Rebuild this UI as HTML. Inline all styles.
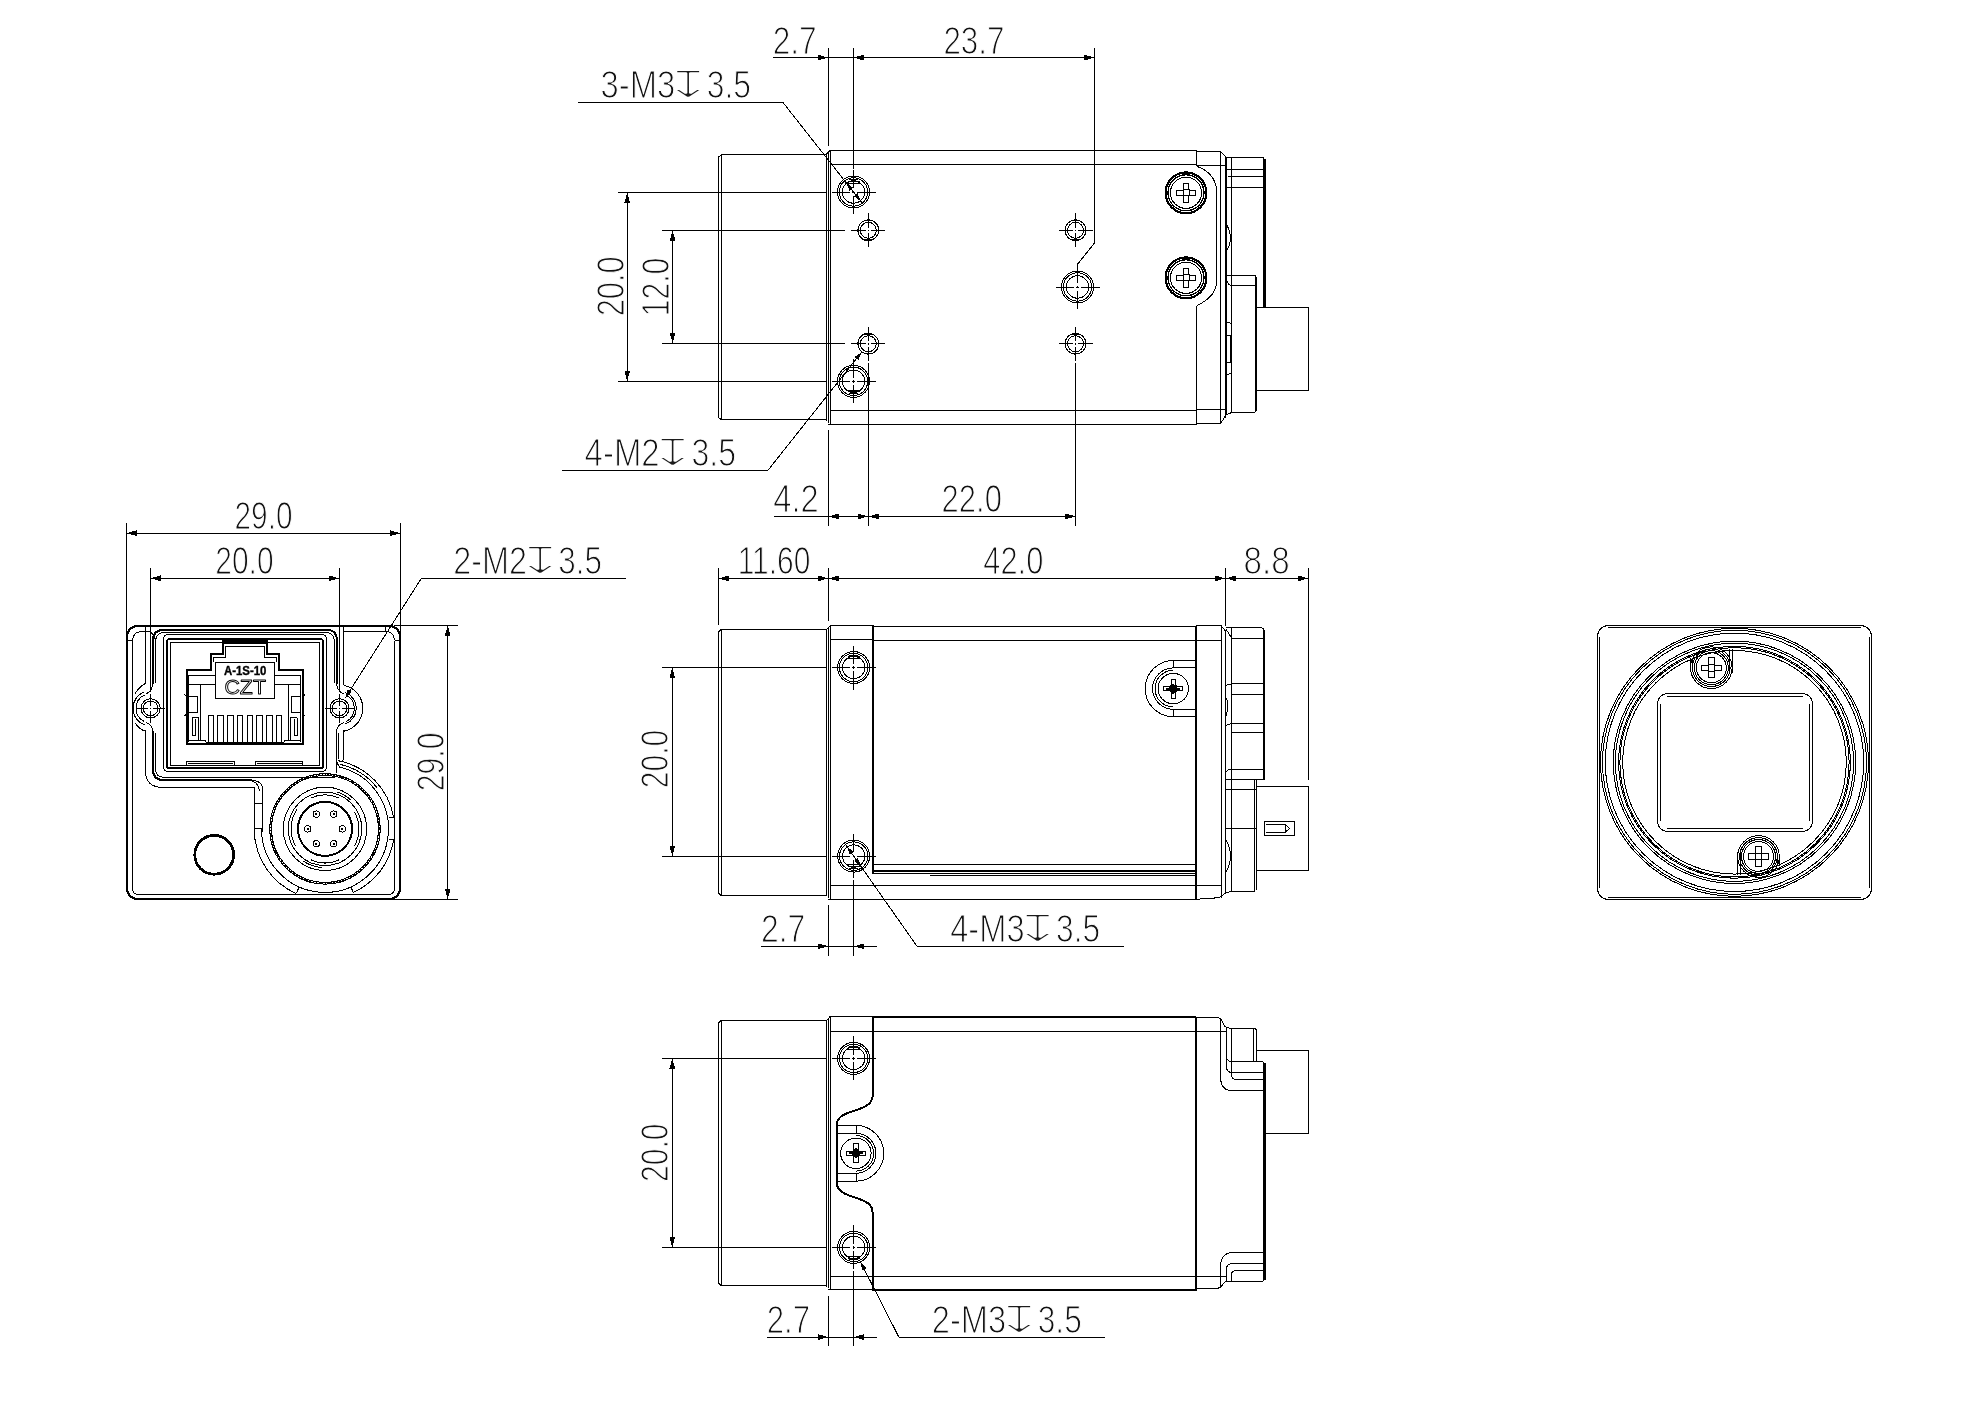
<!DOCTYPE html>
<html lang="en"><head><meta charset="utf-8"><title>Camera outline drawing</title>
<style>
html,body{margin:0;padding:0;background:#fff}
svg{display:block;will-change:transform;filter:grayscale(1)}
svg *{vector-effect:none}
.g{fill:none;stroke:#000;stroke-width:1;shape-rendering:crispEdges;stroke-linecap:butt;stroke-linejoin:miter}
.g .a{fill:#000;stroke:none}
.g text{stroke-linejoin:round}
.t{font-family:"Liberation Sans",Arial,sans-serif;font-size:38px;fill:#111;stroke:#fff;stroke-width:1.15px}
.lb{font-family:"Liberation Sans",Arial,sans-serif;font-size:12px;font-weight:bold;fill:#000;stroke:#000;stroke-width:.35px}
.lo{font-family:"Liberation Sans",Arial,sans-serif;font-size:20px;fill:#fff;stroke:#000;stroke-width:.9px}
.d{font-family:"DejaVu Sans","Liberation Sans",sans-serif;font-size:33.4px;fill:#1c1c1c;stroke:#fff;stroke-width:1.85px}
</style></head>
<body>
<svg width="1984" height="1403" viewBox="0 0 1984 1403">
<rect width="1984" height="1403" fill="#fff"/>
<g class="g">
<g id="top-view">
<polyline points="718.5,417.5 718.5,157 721.5,154.5 826.3,154.5"/>
<line x1="721.5" y1="154.3" x2="721.5" y2="419.5"/>
<polyline points="718,417.5 721.5,419.5 826.3,419.5"/>
<line x1="826.5" y1="154" x2="826.5" y2="421"/>
<line x1="828.5" y1="152.5" x2="828.5" y2="422.5"/>
<polyline points="826.3,154.3 830,150.5 1196.6,150.5"/>
<line x1="830.5" y1="150.5" x2="830.5" y2="424.5"/>
<line x1="830" y1="164.5" x2="1196.6" y2="164.5"/>
<line x1="830" y1="410.5" x2="1196.6" y2="410.5"/>
<line x1="828" y1="424.5" x2="1196.6" y2="424.5"/>
<line x1="1196.5" y1="150.5" x2="1196.5" y2="166.3"/>
<path d="M1196.6,166.3 C1207,169.5 1216.6,178 1216.6,192 L1216.6,281 C1216.6,293 1208,300.5 1196.6,305.6"/>
<line x1="1196.5" y1="305.6" x2="1196.5" y2="424.5"/>
<polyline points="1196.6,151.5 1220.6,151.5 1226,157"/>
<line x1="1196.6" y1="165.5" x2="1225" y2="165.5"/>
<line x1="1220.5" y1="151.5" x2="1220.5" y2="423.1"/>
<line x1="1225.5" y1="156" x2="1225.5" y2="418"/>
<line x1="1226.5" y1="157" x2="1226.5" y2="415"/>
<line x1="1231.5" y1="157.8" x2="1231.5" y2="412"/>
<line x1="1196.6" y1="409.5" x2="1225" y2="409.5"/>
<polyline points="1196.6,423.5 1220.6,423.5 1226,415 1231.5,412.5 1255,412.5"/>
<polyline points="1226,157.5 1263.5,157.5 1263.5,307"/>
<line x1="1265" y1="159" x2="1265" y2="307" stroke-width="1.6"/>
<line x1="1226" y1="169.5" x2="1263.4" y2="169.5"/>
<line x1="1228" y1="176.5" x2="1263.4" y2="176.5"/>
<line x1="1226" y1="187.5" x2="1263.4" y2="187.5"/>
<path d="M1226,223.8 Q1235,238 1226,252"/>
<polyline points="1226,275.5 1255,275.5 1256.5,277.5 1256.5,411"/>
<line x1="1255.5" y1="275.4" x2="1255.5" y2="412"/>
<path d="M1227,281 Q1228,285.6 1233,285.6 L1255,285.6"/>
<polyline points="1226,322 1231.5,323.5"/>
<polyline points="1226,375 1231.5,373"/>
<polyline points="1225,335.5 1230.5,335.5 1230.5,362.5 1225,362.5"/>
<rect x="1256.5" y="307.5" width="52" height="83"/>
<circle cx="853.5" cy="192" r="16"/>
<circle cx="853.5" cy="192" r="14.2"/>
<circle cx="853.5" cy="192" r="11.2"/>
<line x1="846.5" y1="183.5" x2="860.5" y2="183.5"/>
<line x1="847.5" y1="181.5" x2="859.5" y2="181.5"/>
<line x1="848.9" y1="179.5" x2="858.1" y2="179.5"/>
<line x1="831.5" y1="192.5" x2="849.8" y2="192.5"/>
<line x1="857.2" y1="192.5" x2="875.5" y2="192.5"/>
<line x1="852.3" y1="192.5" x2="854.7" y2="192.5"/>
<line x1="853.5" y1="170" x2="853.5" y2="188.3"/>
<line x1="853.5" y1="195.7" x2="853.5" y2="214"/>
<line x1="853.5" y1="190.8" x2="853.5" y2="193.2"/>
<circle cx="853.5" cy="381.3" r="16"/>
<circle cx="853.5" cy="381.3" r="14.2"/>
<circle cx="853.5" cy="381.3" r="11.2"/>
<line x1="846.5" y1="390.5" x2="860.5" y2="390.5"/>
<line x1="847.5" y1="391.5" x2="859.5" y2="391.5"/>
<line x1="848.9" y1="393.5" x2="858.1" y2="393.5"/>
<line x1="831.5" y1="381.5" x2="849.8" y2="381.5"/>
<line x1="857.2" y1="381.5" x2="875.5" y2="381.5"/>
<line x1="852.3" y1="381.5" x2="854.7" y2="381.5"/>
<line x1="853.5" y1="359.3" x2="853.5" y2="377.6"/>
<line x1="853.5" y1="385" x2="853.5" y2="403.3"/>
<line x1="853.5" y1="380.1" x2="853.5" y2="382.5"/>
<circle cx="1077.5" cy="287" r="16"/>
<circle cx="1077.5" cy="287" r="14.2"/>
<circle cx="1077.5" cy="287" r="11.2"/>
<line x1="1055.5" y1="287.5" x2="1073.8" y2="287.5"/>
<line x1="1081.2" y1="287.5" x2="1099.5" y2="287.5"/>
<line x1="1076.3" y1="287.5" x2="1078.7" y2="287.5"/>
<line x1="1077.5" y1="265" x2="1077.5" y2="283.3"/>
<line x1="1077.5" y1="290.7" x2="1077.5" y2="309"/>
<line x1="1077.5" y1="285.8" x2="1077.5" y2="288.2"/>
<circle cx="868.3" cy="230.3" r="10.4"/>
<circle cx="868.3" cy="230.3" r="8"/>
<line x1="864.8" y1="220.5" x2="871.8" y2="220.5" stroke-width="1.4"/>
<line x1="864.8" y1="239.5" x2="871.8" y2="239.5" stroke-width="1.4"/>
<line x1="851.3" y1="230.5" x2="865.5" y2="230.5"/>
<line x1="871.1" y1="230.5" x2="885.3" y2="230.5"/>
<line x1="867.5" y1="230.5" x2="869.1" y2="230.5"/>
<line x1="868.5" y1="213.3" x2="868.5" y2="227.5"/>
<line x1="868.5" y1="233.1" x2="868.5" y2="247.3"/>
<line x1="868.5" y1="229.5" x2="868.5" y2="231.1"/>
<circle cx="868.3" cy="343.7" r="10.4"/>
<circle cx="868.3" cy="343.7" r="8"/>
<line x1="864.8" y1="334.5" x2="871.8" y2="334.5" stroke-width="1.4"/>
<line x1="864.8" y1="353.5" x2="871.8" y2="353.5" stroke-width="1.4"/>
<line x1="851.3" y1="343.5" x2="865.5" y2="343.5"/>
<line x1="871.1" y1="343.5" x2="885.3" y2="343.5"/>
<line x1="867.5" y1="343.5" x2="869.1" y2="343.5"/>
<line x1="868.5" y1="326.7" x2="868.5" y2="340.9"/>
<line x1="868.5" y1="346.5" x2="868.5" y2="360.7"/>
<line x1="868.5" y1="342.9" x2="868.5" y2="344.5"/>
<circle cx="1075.5" cy="230.3" r="10.4"/>
<circle cx="1075.5" cy="230.3" r="8"/>
<line x1="1072" y1="220.5" x2="1079" y2="220.5" stroke-width="1.4"/>
<line x1="1072" y1="239.5" x2="1079" y2="239.5" stroke-width="1.4"/>
<line x1="1058.5" y1="230.5" x2="1072.7" y2="230.5"/>
<line x1="1078.3" y1="230.5" x2="1092.5" y2="230.5"/>
<line x1="1074.7" y1="230.5" x2="1076.3" y2="230.5"/>
<line x1="1075.5" y1="213.3" x2="1075.5" y2="227.5"/>
<line x1="1075.5" y1="233.1" x2="1075.5" y2="247.3"/>
<line x1="1075.5" y1="229.5" x2="1075.5" y2="231.1"/>
<circle cx="1075.5" cy="343.7" r="10.4"/>
<circle cx="1075.5" cy="343.7" r="8"/>
<line x1="1072" y1="334.5" x2="1079" y2="334.5" stroke-width="1.4"/>
<line x1="1072" y1="353.5" x2="1079" y2="353.5" stroke-width="1.4"/>
<line x1="1058.5" y1="343.5" x2="1072.7" y2="343.5"/>
<line x1="1078.3" y1="343.5" x2="1092.5" y2="343.5"/>
<line x1="1074.7" y1="343.5" x2="1076.3" y2="343.5"/>
<line x1="1075.5" y1="326.7" x2="1075.5" y2="340.9"/>
<line x1="1075.5" y1="346.5" x2="1075.5" y2="360.7"/>
<line x1="1075.5" y1="342.9" x2="1075.5" y2="344.5"/>
<circle cx="1186" cy="192.8" r="20.4" stroke-width="2.2"/>
<circle cx="1186" cy="192.8" r="18" stroke-width="1.3"/>
<circle cx="1186" cy="192.8" r="15.6"/>
<rect x="1183.5" y="189.5" width="6" height="6"/>
<rect x="1183.5" y="183.5" width="5" height="6"/>
<rect x="1183.5" y="195.5" width="5" height="7"/>
<rect x="1176.5" y="190.5" width="7" height="5"/>
<rect x="1189.5" y="190.5" width="6" height="5"/>
<circle cx="1186" cy="277.8" r="20.4" stroke-width="2.2"/>
<circle cx="1186" cy="277.8" r="18" stroke-width="1.3"/>
<circle cx="1186" cy="277.8" r="15.6"/>
<rect x="1183.5" y="274.5" width="6" height="6"/>
<rect x="1183.5" y="268.5" width="5" height="6"/>
<rect x="1183.5" y="280.5" width="5" height="7"/>
<rect x="1176.5" y="275.5" width="7" height="5"/>
<rect x="1189.5" y="275.5" width="6" height="5"/>
<line x1="772.9" y1="57.5" x2="1094.6" y2="57.5"/>
<line x1="828.5" y1="48" x2="828.5" y2="146"/>
<line x1="853.5" y1="48" x2="853.5" y2="169"/>
<polyline points="1094.5,48 1094.5,243 1077.5,264.3 1077.5,268"/>
<polygon class="a" points="828.4,57.6 817.9,60.5 817.9,54.7"/>
<polygon class="a" points="853.3,57.6 863.8,54.7 863.8,60.5"/>
<polygon class="a" points="1094.6,57.6 1084.1,60.5 1084.1,54.7"/>
<text class="t" x="772.7" y="54.2" textLength="44" lengthAdjust="spacingAndGlyphs">2.7</text>
<text class="t" x="943.4" y="54.2" textLength="61.1" lengthAdjust="spacingAndGlyphs">23.7</text>
<polyline points="578,102.5 783,102.5 862.6,203.6"/>
<polygon class="a" points="846.2,182.7 853.22,187.87 849.57,190.74"/>
<polygon class="a" points="860.8,201.3 853.78,196.13 857.43,193.26"/>
<g class="callout">
<text class="t" x="600.5" y="98.3" textLength="74.66" lengthAdjust="spacingAndGlyphs">3-M3</text>
<text class="d" transform="translate(663.05,98.3) scale(1.8,1.14)">&#x21A7;</text>
<text class="t" x="706.78" y="98.3" textLength="44.22" lengthAdjust="spacingAndGlyphs">3.5</text>
</g>
<line x1="617.5" y1="192.5" x2="826" y2="192.5"/>
<line x1="617.5" y1="381.5" x2="826" y2="381.5"/>
<line x1="627.5" y1="192.4" x2="627.5" y2="381.2"/>
<polygon class="a" points="627.2,192.4 630.1,202.9 624.3,202.9"/>
<polygon class="a" points="627.2,381.2 624.3,370.7 630.1,370.7"/>
<line x1="662.3" y1="230.5" x2="845" y2="230.5"/>
<line x1="662.3" y1="343.5" x2="845" y2="343.5"/>
<line x1="672.5" y1="230.4" x2="672.5" y2="343.2"/>
<polygon class="a" points="672.6,230.4 675.5,240.9 669.7,240.9"/>
<polygon class="a" points="672.6,343.2 669.7,332.7 675.5,332.7"/>
<text class="t" transform="translate(624,316.3) rotate(-90)" textLength="60" lengthAdjust="spacingAndGlyphs">20.0</text>
<text class="t" transform="translate(668.9,316.3) rotate(-90)" textLength="58.7" lengthAdjust="spacingAndGlyphs">12.0</text>
<polyline points="562,470.5 767.8,470.5 861.6,352.2"/>
<polygon class="a" points="861.8,351.9 858.41,359.93 854.77,357.05"/>
<g class="callout">
<text class="t" x="584.6" y="466.1" textLength="75.09" lengthAdjust="spacingAndGlyphs">4-M2</text>
<text class="d" transform="translate(647.6,466.1) scale(1.8,1.14)">&#x21A7;</text>
<text class="t" x="691.53" y="466.1" textLength="44.47" lengthAdjust="spacingAndGlyphs">3.5</text>
</g>
<line x1="774" y1="516.5" x2="1075.75" y2="516.5"/>
<line x1="828.5" y1="429.7" x2="828.5" y2="525.6"/>
<line x1="868.5" y1="363" x2="868.5" y2="525.6"/>
<line x1="1075.5" y1="363" x2="1075.5" y2="525.6"/>
<polygon class="a" points="828.4,516.4 838.9,513.5 838.9,519.3"/>
<polygon class="a" points="868.3,516.4 857.8,519.3 857.8,513.5"/>
<polygon class="a" points="868.3,516.4 878.8,513.5 878.8,519.3"/>
<polygon class="a" points="1075.75,516.4 1065.25,519.3 1065.25,513.5"/>
<text class="t" x="773.2" y="511.9" textLength="45.6" lengthAdjust="spacingAndGlyphs">4.2</text>
<text class="t" x="941.6" y="511.9" textLength="60.4" lengthAdjust="spacingAndGlyphs">22.0</text>
</g>
<g id="side-view">
<polyline points="718.5,892.5 718.5,632 721.1,629.5 826.5,629.5"/>
<line x1="721.5" y1="629.4" x2="721.5" y2="895.4"/>
<polyline points="718.4,893 721.1,895.5 826.5,895.5"/>
<line x1="826.5" y1="629" x2="826.5" y2="896"/>
<line x1="828.5" y1="627.5" x2="828.5" y2="897.5"/>
<polyline points="826.5,629.4 830.2,625.5 873.2,625.5"/>
<line x1="873.2" y1="626.5" x2="1196" y2="626.5"/>
<line x1="830.5" y1="625.4" x2="830.5" y2="899.3"/>
<line x1="830.2" y1="639.5" x2="873.2" y2="639.5"/>
<line x1="873.2" y1="640.5" x2="1221" y2="640.5"/>
<line x1="830.2" y1="885.5" x2="1196" y2="885.5"/>
<line x1="828.4" y1="899.5" x2="1196" y2="899.5"/>
<line x1="873" y1="625.4" x2="873" y2="873.5" stroke-width="2"/>
<line x1="873.2" y1="864.5" x2="1196" y2="864.5"/>
<line x1="872" y1="871" x2="1196" y2="871" stroke-width="2"/>
<line x1="873.2" y1="873.5" x2="1196" y2="873.5"/>
<line x1="930" y1="875.5" x2="1196" y2="875.5"/>
<line x1="1196" y1="625.8" x2="1196" y2="899.3" stroke-width="2"/>
<polyline points="1196,625.5 1221,625.5 1225.5,631"/>
<line x1="1221.5" y1="625.8" x2="1221.5" y2="897.5"/>
<line x1="1225.5" y1="630" x2="1225.5" y2="893"/>
<line x1="1231.5" y1="628" x2="1231.5" y2="891.5"/>
<polyline points="1196,885.5 1221,885.5"/>
<polyline points="1196,899.3 1219,897.7 1225.5,893 1231.4,891.5 1254,891.5"/>
<path d="M1225.5,627.6 L1260,627.6 Q1264,627.6 1264,631.5"/>
<line x1="1264" y1="630" x2="1264" y2="779" stroke-width="2"/>
<path d="M1226,629 L1232,638.9 L1262.5,638.9"/>
<line x1="1231.4" y1="683.5" x2="1263" y2="683.5"/>
<line x1="1231.4" y1="694.5" x2="1263" y2="694.5"/>
<line x1="1231.4" y1="723.5" x2="1263" y2="723.5"/>
<line x1="1231.4" y1="732.5" x2="1263" y2="732.5"/>
<line x1="1231.4" y1="769.5" x2="1263" y2="769.5"/>
<polyline points="1225.5,779.5 1264.8,779.5"/>
<path d="M1225.5,686 Q1228,684 1231.4,683.9"/>
<path d="M1225.5,726 Q1228,724 1231.4,723.6"/>
<path d="M1225.5,772 Q1228,769.5 1231.4,769"/>
<path d="M1226,698 Q1230,704 1226,716"/>
<line x1="1254.5" y1="779" x2="1254.5" y2="891.5"/>
<line x1="1256.5" y1="779" x2="1256.5" y2="890"/>
<line x1="1225.5" y1="789.5" x2="1256.2" y2="789.5"/>
<line x1="1225.5" y1="828.5" x2="1256.2" y2="828.5"/>
<path d="M1226,840 Q1235,856 1226,872"/>
<rect x="1256.5" y="786.5" width="52" height="84"/>
<rect x="1264.5" y="821.5" width="30" height="14"/>
<polyline points="1265.5,824.5 1285,824.5 1289.5,828.4 1285,832.5 1265.5,832.5"/>
<line x1="1285.5" y1="824.4" x2="1285.5" y2="832.6"/>
<path d="M1196,660.5 L1173.3,660.5 A28.1,28.1 0 0 0 1173.3,716.7 L1196,716.7"/>
<path d="M1196,667.9 L1173.3,667.9 A20.7,20.7 0 0 0 1173.3,709.3 L1196,709.3"/>
<path d="M1173.3,670.3 A18.3,18.3 0 0 0 1173.3,706.9"/>
<line x1="1173.5" y1="660.5" x2="1173.5" y2="667.9"/>
<line x1="1173.5" y1="709.3" x2="1173.5" y2="716.7"/>
<circle cx="1173.3" cy="688.6" r="15.2"/>
<rect x="1170.5" y="685.5" width="6" height="6"/>
<rect x="1171.5" y="679.5" width="4" height="6"/>
<rect x="1171.5" y="691.5" width="4" height="7"/>
<rect x="1163.5" y="686.5" width="7" height="4"/>
<rect x="1176.5" y="686.5" width="6" height="4"/>
<circle cx="1173.3" cy="688.6" r="3.6" fill="#000"/>
<line x1="1166.3" y1="689" x2="1180.3" y2="689" stroke-width="2.4"/>
<line x1="1173" y1="683.6" x2="1173" y2="693.6" stroke-width="2.4"/>
<circle cx="853.6" cy="667.5" r="16"/>
<circle cx="853.6" cy="667.5" r="14.2"/>
<circle cx="853.6" cy="667.5" r="11.2"/>
<line x1="846.6" y1="658.5" x2="860.6" y2="658.5"/>
<line x1="847.6" y1="656.5" x2="859.6" y2="656.5"/>
<line x1="849" y1="655.5" x2="858.2" y2="655.5"/>
<line x1="831.6" y1="667.5" x2="849.9" y2="667.5"/>
<line x1="857.3" y1="667.5" x2="875.6" y2="667.5"/>
<line x1="852.4" y1="667.5" x2="854.8" y2="667.5"/>
<line x1="853.5" y1="645.5" x2="853.5" y2="663.8"/>
<line x1="853.5" y1="671.2" x2="853.5" y2="689.5"/>
<line x1="853.5" y1="666.3" x2="853.5" y2="668.7"/>
<circle cx="853.7" cy="856.1" r="16"/>
<circle cx="853.7" cy="856.1" r="14.2"/>
<circle cx="853.7" cy="856.1" r="11.2"/>
<line x1="846.7" y1="864.5" x2="860.7" y2="864.5"/>
<line x1="847.7" y1="866.5" x2="859.7" y2="866.5"/>
<line x1="849.1" y1="868.5" x2="858.3" y2="868.5"/>
<line x1="831.7" y1="856.5" x2="850" y2="856.5"/>
<line x1="857.4" y1="856.5" x2="875.7" y2="856.5"/>
<line x1="852.5" y1="856.5" x2="854.9" y2="856.5"/>
<line x1="853.5" y1="834.1" x2="853.5" y2="852.4"/>
<line x1="853.5" y1="859.8" x2="853.5" y2="878.1"/>
<line x1="853.5" y1="854.9" x2="853.5" y2="857.3"/>
<line x1="718.4" y1="578.5" x2="1308.5" y2="578.5"/>
<line x1="718.5" y1="568" x2="718.5" y2="625"/>
<line x1="828.5" y1="568" x2="828.5" y2="620.7"/>
<line x1="1225.5" y1="568" x2="1225.5" y2="626"/>
<line x1="1308.5" y1="568" x2="1308.5" y2="779.5"/>
<polygon class="a" points="718.4,578.4 728.9,575.5 728.9,581.3"/>
<polygon class="a" points="828.4,578.4 817.9,581.3 817.9,575.5"/>
<polygon class="a" points="828.4,578.4 838.9,575.5 838.9,581.3"/>
<polygon class="a" points="1225.5,578.4 1215,581.3 1215,575.5"/>
<polygon class="a" points="1225.5,578.4 1236,575.5 1236,581.3"/>
<polygon class="a" points="1308.5,578.4 1298,581.3 1298,575.5"/>
<text class="t" x="737.7" y="574.1" textLength="72.7" lengthAdjust="spacingAndGlyphs">11.60</text>
<text class="t" x="983.2" y="574.1" textLength="60.2" lengthAdjust="spacingAndGlyphs">42.0</text>
<text class="t" x="1243.5" y="574.1" textLength="46.1" lengthAdjust="spacingAndGlyphs">8.8</text>
<line x1="662.2" y1="667.5" x2="826.6" y2="667.5"/>
<line x1="662.2" y1="856.5" x2="826.6" y2="856.5"/>
<line x1="672.5" y1="667.5" x2="672.5" y2="856.1"/>
<polygon class="a" points="672.3,667.5 675.2,678 669.4,678"/>
<polygon class="a" points="672.3,856.1 669.4,845.6 675.2,845.6"/>
<text class="t" transform="translate(668.2,788.2) rotate(-90)" textLength="58.5" lengthAdjust="spacingAndGlyphs">20.0</text>
<line x1="761" y1="946.5" x2="877.4" y2="946.5"/>
<line x1="828.5" y1="904.7" x2="828.5" y2="956.4"/>
<line x1="853.5" y1="880" x2="853.5" y2="956.4"/>
<polygon class="a" points="828.5,946.3 818,949.2 818,943.4"/>
<polygon class="a" points="853.7,946.3 864.2,943.4 864.2,949.2"/>
<text class="t" x="760.9" y="942" textLength="44.4" lengthAdjust="spacingAndGlyphs">2.7</text>
<polyline points="1123.9,946.5 917.2,946.5 845.2,844"/>
<polygon class="a" points="847,846.6 853.74,852.13 849.95,854.8"/>
<polygon class="a" points="860.9,866.3 854.16,860.77 857.95,858.1"/>
<g class="callout">
<text class="t" x="950.2" y="942" textLength="74.41" lengthAdjust="spacingAndGlyphs">4-M3</text>
<text class="d" transform="translate(1012.5,942) scale(1.8,1.14)">&#x21A7;</text>
<text class="t" x="1056.12" y="942" textLength="44.08" lengthAdjust="spacingAndGlyphs">3.5</text>
</g>
</g>
<g id="bottom-view">
<polyline points="718.5,1283 718.5,1023 721.1,1020.5 826.5,1020.5"/>
<line x1="721.5" y1="1020.3" x2="721.5" y2="1285.4"/>
<polyline points="718.4,1283 721.1,1285.5 826.5,1285.5"/>
<line x1="826.5" y1="1020" x2="826.5" y2="1287"/>
<line x1="828.5" y1="1018.5" x2="828.5" y2="1288"/>
<polyline points="826.5,1020.3 830.2,1016.5 873.2,1016.5"/>
<line x1="873.2" y1="1017" x2="1196.3" y2="1017" stroke-width="2"/>
<line x1="830.5" y1="1016.7" x2="830.5" y2="1289.7"/>
<line x1="830.2" y1="1031.5" x2="1226" y2="1031.5"/>
<line x1="830.2" y1="1276.5" x2="1226" y2="1276.5"/>
<line x1="828.4" y1="1289.5" x2="873.2" y2="1289.5"/>
<line x1="872.4" y1="1290" x2="1196.3" y2="1290" stroke-width="2"/>
<path d="M873.2,1016.7 L873.2,1092 C873.2,1103 868,1106.5 855,1110.5 C842,1114.5 836.5,1117.5 836.5,1127 L836.5,1181 C836.5,1190 842,1193.5 855,1197.5 C867,1201.5 872.6,1204.5 872.6,1213 L872.6,1289.7" stroke-width="2"/>
<path d="M836.5,1125.4 L855.9,1125.4 A27.9,27.9 0 0 1 855.9,1181.2 L836.5,1181.2"/>
<path d="M836.5,1133.3 L855.9,1133.3 A20,20 0 0 1 855.9,1173.3 L836.5,1173.3"/>
<path d="M855.9,1135.5 A17.8,17.8 0 0 1 855.9,1171.1"/>
<line x1="856.5" y1="1125.4" x2="856.5" y2="1133.3"/>
<line x1="856.5" y1="1173.3" x2="856.5" y2="1181.2"/>
<circle cx="855.9" cy="1153.3" r="15.2"/>
<rect x="853.5" y="1150.5" width="5" height="6"/>
<rect x="853.5" y="1143.5" width="5" height="7"/>
<rect x="853.5" y="1156.5" width="5" height="6"/>
<rect x="846.5" y="1151.5" width="7" height="4"/>
<rect x="858.5" y="1151.5" width="7" height="4"/>
<circle cx="855.9" cy="1153.3" r="3.6" fill="#000"/>
<line x1="848.9" y1="1153" x2="862.9" y2="1153" stroke-width="2.4"/>
<line x1="856" y1="1148.3" x2="856" y2="1158.3" stroke-width="2.4"/>
<circle cx="853.6" cy="1058.4" r="16"/>
<circle cx="853.6" cy="1058.4" r="14.2"/>
<circle cx="853.6" cy="1058.4" r="11.2"/>
<line x1="846.6" y1="1049.5" x2="860.6" y2="1049.5"/>
<line x1="847.6" y1="1047.5" x2="859.6" y2="1047.5"/>
<line x1="849" y1="1046.5" x2="858.2" y2="1046.5"/>
<line x1="831.6" y1="1058.5" x2="849.9" y2="1058.5"/>
<line x1="857.3" y1="1058.5" x2="875.6" y2="1058.5"/>
<line x1="852.4" y1="1058.5" x2="854.8" y2="1058.5"/>
<line x1="853.5" y1="1036.4" x2="853.5" y2="1054.7"/>
<line x1="853.5" y1="1062.1" x2="853.5" y2="1080.4"/>
<line x1="853.5" y1="1057.2" x2="853.5" y2="1059.6"/>
<circle cx="853.7" cy="1247.4" r="16"/>
<circle cx="853.7" cy="1247.4" r="14.2"/>
<circle cx="853.7" cy="1247.4" r="11.2"/>
<line x1="846.7" y1="1256.5" x2="860.7" y2="1256.5"/>
<line x1="847.7" y1="1258.5" x2="859.7" y2="1258.5"/>
<line x1="849.1" y1="1259.5" x2="858.3" y2="1259.5"/>
<line x1="831.7" y1="1247.5" x2="850" y2="1247.5"/>
<line x1="857.4" y1="1247.5" x2="875.7" y2="1247.5"/>
<line x1="852.5" y1="1247.5" x2="854.9" y2="1247.5"/>
<line x1="853.5" y1="1225.4" x2="853.5" y2="1243.7"/>
<line x1="853.5" y1="1251.1" x2="853.5" y2="1269.4"/>
<line x1="853.5" y1="1246.2" x2="853.5" y2="1248.6"/>
<line x1="1196" y1="1016.7" x2="1196" y2="1290.5" stroke-width="2"/>
<path d="M1196.3,1017.2 L1216,1017.2 Q1220.6,1017.5 1222.5,1022 Q1224,1027.6 1229,1028 L1255,1028 L1256.4,1030 L1256.4,1061.9"/>
<line x1="1253.5" y1="1028" x2="1253.5" y2="1061.9"/>
<path d="M1220.6,1018 L1220.6,1078 Q1221,1090.6 1232,1090.6 L1263.2,1090.6"/>
<path d="M1226,1027 L1226,1066 Q1226.5,1072.9 1233,1072.9 L1263.2,1072.9"/>
<path d="M1231.2,1028 L1231.2,1074 Q1231.5,1079.5 1236,1079.5 L1263.2,1079.5"/>
<path d="M1226,1056 Q1227,1061.9 1233,1061.9 L1263.2,1061.9"/>
<line x1="1263.5" y1="1061.9" x2="1263.5" y2="1281"/>
<line x1="1265" y1="1063" x2="1265" y2="1280" stroke-width="1.6"/>
<polyline points="1256.5,1061.9 1256.5,1050.5 1308.5,1050.5 1308.5,1133.5 1264.8,1133.5"/>
<path d="M1220.6,1288 L1220.6,1266 Q1221,1252.5 1233,1252.5 L1263.2,1252.5"/>
<path d="M1226,1282 L1226,1270 Q1226.5,1263.5 1233,1263.5 L1263.2,1263.5"/>
<path d="M1231.2,1281 L1231.2,1275 Q1231.5,1270.6 1236,1270.6 L1263.2,1270.6"/>
<path d="M1196.3,1289 L1216,1288.6 Q1221,1288 1223,1284 Q1225,1281 1230,1281 L1263.2,1281"/>
<line x1="662.2" y1="1058.5" x2="826.6" y2="1058.5"/>
<line x1="662.2" y1="1247.5" x2="826.6" y2="1247.5"/>
<line x1="672.5" y1="1058.4" x2="672.5" y2="1247.4"/>
<polygon class="a" points="672.3,1058.4 675.2,1068.9 669.4,1068.9"/>
<polygon class="a" points="672.3,1247.4 669.4,1236.9 675.2,1236.9"/>
<text class="t" transform="translate(668.2,1182) rotate(-90)" textLength="58.5" lengthAdjust="spacingAndGlyphs">20.0</text>
<line x1="766.8" y1="1337.5" x2="877.4" y2="1337.5"/>
<line x1="828.5" y1="1295.5" x2="828.5" y2="1346.4"/>
<line x1="853.5" y1="1271" x2="853.5" y2="1346.4"/>
<polygon class="a" points="828.5,1337.1 818,1340 818,1334.2"/>
<polygon class="a" points="853.7,1337.1 864.2,1334.2 864.2,1340"/>
<text class="t" x="766.7" y="1332.8" textLength="43.4" lengthAdjust="spacingAndGlyphs">2.7</text>
<polyline points="1105,1337.5 899.1,1337.5 860.5,1262"/>
<polygon class="a" points="860.5,1262 866.4,1268.41 862.28,1270.53"/>
<g class="callout">
<text class="t" x="931.8" y="1332.8" textLength="74.41" lengthAdjust="spacingAndGlyphs">2-M3</text>
<text class="d" transform="translate(994.1,1332.8) scale(1.8,1.14)">&#x21A7;</text>
<text class="t" x="1037.72" y="1332.8" textLength="44.08" lengthAdjust="spacingAndGlyphs">3.5</text>
</g>
</g>
<g id="back-view">
<path d="M137.5,626 H389.5 A10.5,10.5 0 0 1 400,636.5 V888.5 A10.5,10.5 0 0 1 389.5,899 H137.5 A10.5,10.5 0 0 1 127,888.5 V636.5 A10.5,10.5 0 0 1 137.5,626 Z" stroke-width="2"/>
<path d="M132.5,640.5 V888 Q132.5,894.5 139,894.5 H388 Q394.5,894.5 394.5,888 V640.5"/>
<path d="M132.5,640.5 Q133,632 141,631.5 H147.8 Q153.5,632 154.9,639"/>
<line x1="132.5" y1="640.5" x2="128" y2="640.5"/>
<line x1="145.5" y1="627" x2="145.5" y2="683.5"/>
<path d="M394.5,640.5 Q394,632 386.7,631.5 H343.5"/>
<line x1="343.5" y1="627" x2="343.5" y2="683.5"/>
<line x1="394.5" y1="640.5" x2="399.5" y2="640.5"/>
<line x1="385.5" y1="627" x2="385.5" y2="631.5"/>
<path d="M153,683.5 V639 Q153.5,630 164.4,629.6 H326 Q336.5,630 337,639 V683.5" stroke-width="2"/>
<path d="M155.5,682.5 V641 Q156,632.5 165,632.5 H325 Q334,632.5 334.5,641 V682.5"/>
<path d="M153,731 V770 Q153,780 163.5,780 H252" stroke-width="2"/>
<path d="M155.5,733 V768 Q155.5,777.5 165,777.5 H335"/>
<path d="M145.5,731 V772 Q146,787.5 163.5,787.5 H254.5"/>
<path d="M144.43,721.53 A14.6,14.6 0 0 1 144.43,695.07"/>
<path d="M144.58,724.84 A17.6,17.6 0 0 1 144.58,691.76"/>
<path d="M152.5,683.5 Q152.5,691 146,694"/>
<path d="M152.5,731 Q152.5,725 146,722.5"/>
<path d="M145.5,683.5 Q140,686 135,693.5"/>
<path d="M145.5,731 Q140,730 135,723"/>
<path d="M345.75,694.89 A14.8,14.8 0 0 1 345.75,721.71"/>
<path d="M345.25,692.51 A16.8,16.8 0 0 1 345.25,724.09"/>
<path d="M345.53,685.79 A23.3,23.3 0 0 1 344.34,731.09"/>
<path d="M336.5,683.5 Q337,691 344,694"/>
<path d="M336.5,731 Q337,725 344,722.5"/>
<path d="M343,683.5 Q344,686 346,686"/>
<path d="M343.5,731 Q345,729.5 345,731"/>
<line x1="336.5" y1="731" x2="336.5" y2="773"/>
<line x1="338.5" y1="733" x2="338.5" y2="759"/>
<line x1="343.5" y1="731" x2="343.5" y2="758.7"/>
<circle cx="150.6" cy="708.3" r="9.6"/>
<circle cx="150.6" cy="708.3" r="7.4"/>
<line x1="136.1" y1="708.5" x2="147.8" y2="708.5"/>
<line x1="153.4" y1="708.5" x2="165.1" y2="708.5"/>
<line x1="149.8" y1="708.5" x2="151.4" y2="708.5"/>
<line x1="150.5" y1="693.8" x2="150.5" y2="705.5"/>
<line x1="150.5" y1="711.1" x2="150.5" y2="722.8"/>
<line x1="150.5" y1="707.5" x2="150.5" y2="709.1"/>
<circle cx="339.5" cy="708.3" r="9.6"/>
<circle cx="339.5" cy="708.3" r="7.4"/>
<line x1="325" y1="708.5" x2="336.7" y2="708.5"/>
<line x1="342.3" y1="708.5" x2="354" y2="708.5"/>
<line x1="338.7" y1="708.5" x2="340.3" y2="708.5"/>
<line x1="339.5" y1="693.8" x2="339.5" y2="705.5"/>
<line x1="339.5" y1="711.1" x2="339.5" y2="722.8"/>
<line x1="339.5" y1="707.5" x2="339.5" y2="709.1"/>
<path d="M168,634.5 H322 A4.5,4.5 0 0 1 326.5,639 V767 A4.5,4.5 0 0 1 322,771.5 H168 A4.5,4.5 0 0 1 163.5,767 V639 A4.5,4.5 0 0 1 168,634.5 Z"/>
<path d="M169.5,639 H320.5 A2.5,2.5 0 0 1 323,641.5 V765.5 A2.5,2.5 0 0 1 320.5,768 H169.5 A2.5,2.5 0 0 1 167,765.5 V641.5 A2.5,2.5 0 0 1 169.5,639 Z" stroke-width="2"/>
<rect x="170.5" y="642.5" width="149" height="123"/>
<polyline points="186.5,765.9 186.5,761.5 234.5,761.5 234.5,765.9"/>
<line x1="188" y1="763.5" x2="233" y2="763.5"/>
<polyline points="255.5,765.9 255.5,761.5 302.5,761.5 302.5,765.9"/>
<line x1="256.5" y1="763.5" x2="301.5" y2="763.5"/>
<polygon points="187,744 187,670 211,670 211,654 223,654 223,641 267,641 267,654 279,654 279,670 303,670 303,744" stroke-width="2"/>
<polyline points="188.5,742 188.5,675.5 215.6,675.5"/>
<polyline points="300.5,742 300.5,675.5 274.6,675.5"/>
<polyline points="213.5,662.2 213.5,657.5 225.5,657.5 225.5,646.5 264.5,646.5 264.5,657.5 276.5,657.5 276.5,662.2"/>
<line x1="222.8" y1="643.5" x2="266.6" y2="643.5"/>
<line x1="188.8" y1="684.5" x2="215.6" y2="684.5"/>
<line x1="274.6" y1="684.5" x2="300.6" y2="684.5"/>
<line x1="200.5" y1="684.2" x2="200.5" y2="740"/>
<line x1="288.5" y1="684.2" x2="288.5" y2="740"/>
<rect x="188.5" y="696.5" width="9" height="16"/>
<rect x="291.5" y="696.5" width="9" height="16"/>
<polyline points="192,717.5 198.5,717.5 198.5,740"/>
<polyline points="192.5,717.5 192.5,735.5 195.5,735.5 195.5,719"/>
<polyline points="297.4,717.5 290.5,717.5 290.5,740"/>
<polyline points="297.5,717.5 297.5,735.5 294.5,735.5 294.5,719"/>
<polyline points="188.8,740.5 205.5,740.5 205.5,742"/>
<polyline points="300.6,740.5 284.5,740.5 284.5,742"/>
<line x1="184.5" y1="694.5" x2="186.6" y2="697"/>
<line x1="184.5" y1="716" x2="186.6" y2="713.5"/>
<line x1="305" y1="694.5" x2="302.8" y2="697"/>
<line x1="305" y1="716" x2="302.8" y2="713.5"/>
<rect x="215.5" y="662.5" width="59" height="36"/>
<polyline points="208.5,742.5 208.5,715.5 213.5,715.5 213.5,742.5"/>
<polyline points="217.5,742.5 217.5,715.5 223.5,715.5 223.5,742.5"/>
<polyline points="227.5,742.5 227.5,715.5 233.5,715.5 233.5,742.5"/>
<polyline points="237.5,742.5 237.5,715.5 242.5,715.5 242.5,742.5"/>
<polyline points="247.5,742.5 247.5,715.5 252.5,715.5 252.5,742.5"/>
<polyline points="256.5,742.5 256.5,715.5 262.5,715.5 262.5,742.5"/>
<polyline points="266.5,742.5 266.5,715.5 272.5,715.5 272.5,742.5"/>
<polyline points="276.5,742.5 276.5,715.5 281.5,715.5 281.5,742.5"/>
<line x1="205.5" y1="742.5" x2="284" y2="742.5"/>
<text class="lb" x="245.2" y="674.6" text-anchor="middle" textLength="42.5" lengthAdjust="spacingAndGlyphs">A-1S-10</text>
<text class="lo" x="245.2" y="693.9" text-anchor="middle" textLength="41.5" lengthAdjust="spacingAndGlyphs">CZT</text>
<path d="M252,780.3 Q262.9,780.3 262.9,791 V832"/>
<path d="M254.5,787.5 V831"/>
<path d="M250,780.3 Q258.5,782 259.5,791"/>
<line x1="254.5" y1="803.5" x2="262.9" y2="803.5"/>
<circle cx="325" cy="828.9" r="55.2"/>
<circle cx="325" cy="828.9" r="53.4"/>
<circle cx="325" cy="828.9" r="54.3" stroke-width="2.2" stroke-dasharray="1.6 1.4"/>
<circle cx="325" cy="828.9" r="41.7"/>
<circle cx="325" cy="828.9" r="36.7"/>
<path d="M310.63,798.09 A34,34 0 0 1 339.37,798.09"/>
<path d="M339.37,859.71 A34,34 0 0 1 310.63,859.71"/>
<path d="M295.56,845.9 A34,34 0 0 1 297.15,809.4"/>
<path d="M354.44,811.9 A34,34 0 0 1 354.44,845.9"/>
<path d="M336.99,792 A38.8,38.8 0 0 1 350.96,800.07"/>
<path d="M321.62,867.55 A38.8,38.8 0 0 1 302.75,860.68"/>
<circle cx="325" cy="828.9" r="27" stroke-width="2"/>
<circle cx="342.3" cy="828.9" r="3.2"/>
<circle cx="342.3" cy="828.9" r="0.7"/>
<circle cx="333.65" cy="843.7" r="3.2"/>
<circle cx="333.65" cy="843.7" r="0.7"/>
<circle cx="316.35" cy="843.7" r="3.2"/>
<circle cx="316.35" cy="843.7" r="0.7"/>
<circle cx="307.7" cy="828.9" r="3.2"/>
<circle cx="307.7" cy="828.9" r="0.7"/>
<circle cx="316.35" cy="814.1" r="3.2"/>
<circle cx="316.35" cy="814.1" r="0.7"/>
<circle cx="333.65" cy="814.1" r="3.2"/>
<circle cx="333.65" cy="814.1" r="0.7"/>
<path d="M338.26,760.68 A69.5,69.5 0 0 1 393.55,817.43"/>
<path d="M393.64,839.77 A69.5,69.5 0 0 1 353.27,892.39"/>
<path d="M296.2,893.58 A70.8,70.8 0 0 1 254.24,831.37"/>
<path d="M339.28,767.03 A63.5,63.5 0 1 1 261.5,828.9"/>
<path d="M339.91,764.3 A66.3,66.3 0 0 1 377.25,788.08"/>
<path d="M336.5,759 Q337.5,766 340.5,767.5"/>
<path d="M343,758.7 Q344,761.5 339,761.5"/>
<line x1="388.5" y1="817.5" x2="394.5" y2="817.5"/>
<line x1="388.5" y1="839.5" x2="394.5" y2="839.5"/>
<line x1="262.5" y1="832" x2="262.5" y2="829"/>
<line x1="254.5" y1="831" x2="254.5" y2="833"/>
<line x1="254.5" y1="828.5" x2="262.9" y2="828.5"/>
<line x1="350.83" y1="886.91" x2="353.47" y2="892.85"/>
<line x1="299.17" y1="886.91" x2="296.53" y2="892.85"/>
<circle cx="214.2" cy="854.8" r="19.4" stroke-width="2.8"/>
<line x1="126.2" y1="533.5" x2="400.3" y2="533.5"/>
<line x1="126.5" y1="523" x2="126.5" y2="632.5"/>
<line x1="400.5" y1="523" x2="400.5" y2="632.5"/>
<polygon class="a" points="126.2,533.2 136.7,530.3 136.7,536.1"/>
<polygon class="a" points="400.3,533.2 389.8,536.1 389.8,530.3"/>
<text class="t" x="234.5" y="529" textLength="58" lengthAdjust="spacingAndGlyphs">29.0</text>
<line x1="150.2" y1="578.5" x2="339.3" y2="578.5"/>
<line x1="150.5" y1="568.2" x2="150.5" y2="692"/>
<line x1="339.5" y1="568.2" x2="339.5" y2="692"/>
<polygon class="a" points="150.2,578.3 160.7,575.4 160.7,581.2"/>
<polygon class="a" points="339.3,578.3 328.8,581.2 328.8,575.4"/>
<text class="t" x="215.3" y="574.2" textLength="58.3" lengthAdjust="spacingAndGlyphs">20.0</text>
<polyline points="625.5,578.5 421.2,578.5 345.6,697.4"/>
<polygon class="a" points="345.2,698 347.74,689.66 351.66,692.15"/>
<g class="callout">
<text class="t" x="453.2" y="574.2" textLength="73.83" lengthAdjust="spacingAndGlyphs">2-M2</text>
<text class="d" transform="translate(514.9,574.2) scale(1.8,1.14)">&#x21A7;</text>
<text class="t" x="558.25" y="574.2" textLength="43.75" lengthAdjust="spacingAndGlyphs">3.5</text>
</g>
<line x1="393.5" y1="625.5" x2="457.9" y2="625.5"/>
<line x1="393" y1="899.5" x2="457.5" y2="899.5"/>
<line x1="447.5" y1="625.5" x2="447.5" y2="899.3"/>
<polygon class="a" points="447.7,625.5 450.6,636 444.8,636"/>
<polygon class="a" points="447.7,899.3 444.8,888.8 450.6,888.8"/>
<text class="t" transform="translate(444.3,791.3) rotate(-90)" textLength="58.8" lengthAdjust="spacingAndGlyphs">29.0</text>
</g>
<g id="front-view">
<path d="M1608.5,625.5 H1860.5 A11,11 0 0 1 1871.5,636.5 V888.5 A11,11 0 0 1 1860.5,899.5 H1608.5 A11,11 0 0 1 1597.5,888.5 V636.5 A11,11 0 0 1 1608.5,625.5 Z"/>
<path d="M1599.5,637 V888 M1869.5,637 V888 M1608,627.5 H1861 M1608,897.3 H1861"/>
<circle cx="1734.5" cy="762.3" r="134"/>
<circle cx="1734.5" cy="762.3" r="132"/>
<circle cx="1734.5" cy="762.3" r="129.2"/>
<circle cx="1734.5" cy="762.3" r="121.2"/>
<circle cx="1734.5" cy="762.3" r="119.1"/>
<circle cx="1734.5" cy="762.3" r="115.9"/>
<circle cx="1734.5" cy="762.3" r="114.6"/>
<circle cx="1734.5" cy="762.3" r="111.8"/>
<path d="M1667.5,693.5 H1802.5 A10,10 0 0 1 1812.5,703.5 V821.5 A10,10 0 0 1 1802.5,831.5 H1667.5 A10,10 0 0 1 1657.5,821.5 V703.5 A10,10 0 0 1 1667.5,693.5 Z"/>
<path d="M1660,704 V821 M1809.7,704 V821 M1667,696.2 H1803 M1667,828.6 H1803"/>
<circle cx="1711.3" cy="667.7" r="20.8"/>
<circle cx="1711.3" cy="667.7" r="18.8"/>
<circle cx="1711.3" cy="667.7" r="17"/>
<circle cx="1711.3" cy="667.7" r="15"/>
<rect x="1708.5" y="664.5" width="6" height="7"/>
<rect x="1708.5" y="657.5" width="6" height="7"/>
<rect x="1708.5" y="671.5" width="6" height="6"/>
<rect x="1701.5" y="665.5" width="7" height="5"/>
<rect x="1714.5" y="665.5" width="7" height="5"/>
<line x1="1690.5" y1="670.7" x2="1690.5" y2="658.2"/>
<line x1="1692.5" y1="670.7" x2="1692.5" y2="659.2"/>
<line x1="1732.5" y1="672.7" x2="1732.5" y2="649.2"/>
<line x1="1729.5" y1="672.7" x2="1729.5" y2="649.2"/>
<circle cx="1758.5" cy="856.5" r="20.8"/>
<circle cx="1758.5" cy="856.5" r="18.8"/>
<circle cx="1758.5" cy="856.5" r="17"/>
<circle cx="1758.5" cy="856.5" r="15"/>
<rect x="1755.5" y="853.5" width="6" height="6"/>
<rect x="1755.5" y="846.5" width="6" height="7"/>
<rect x="1755.5" y="859.5" width="6" height="7"/>
<rect x="1748.5" y="853.5" width="7" height="6"/>
<rect x="1761.5" y="853.5" width="7" height="6"/>
<line x1="1737.5" y1="851.5" x2="1737.5" y2="875"/>
<line x1="1740.5" y1="851.5" x2="1740.5" y2="875"/>
<line x1="1779.5" y1="853.5" x2="1779.5" y2="866"/>
<line x1="1777.5" y1="853.5" x2="1777.5" y2="865"/>
</g>
</g>
</svg>
</body></html>
